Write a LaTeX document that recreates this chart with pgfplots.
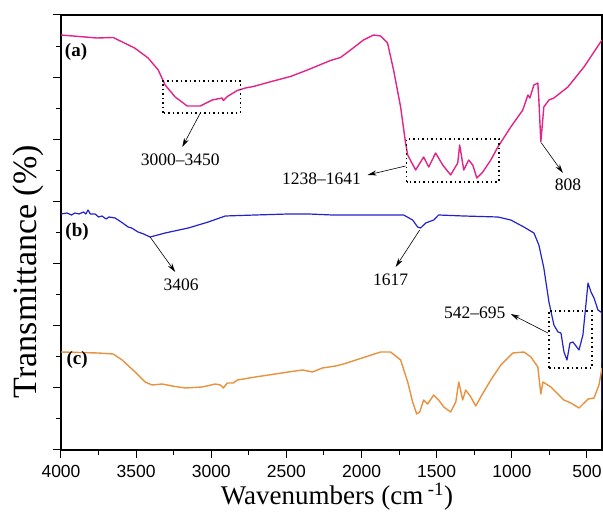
\documentclass[border=0pt]{standalone}
\usepackage{pgfplots}
\pgfplotsset{compat=1.18}
\usepackage{fontspec}
\setmainfont{Liberation Serif}
\newfontfamily\arialfont{Liberation Sans}
\usetikzlibrary{arrows.meta}

\definecolor{specA}{RGB}{224,36,138}
\definecolor{specB}{RGB}{34,34,204}
\definecolor{specC}{RGB}{232,145,62}

\begin{document}
\begin{tikzpicture}
\begin{axis}[
  scale only axis,
  width=541pt, height=435pt,
  x dir=reverse,
  xmin=400, xmax=4000,
  ymin=0, ymax=435,
  xtick={500,1000,...,4000},
  minor x tick num=1,
  ytick={0,62.142857,...,436},
  minor y tick num=1,
  yticklabels={},
  tick pos=left,
  tick align=outside,
  major tick length=8pt,
  minor tick length=5pt,
  every tick/.style={black, line width=1pt},
  axis line style={line width=1.3pt},
  /pgf/number format/assume math mode=true,
  /pgf/number format/set thousands separator={},
  ticklabel style={font=\arialfont\fontsize{17.5}{17.5}\selectfont},
  xticklabel style={yshift=-4pt},
  xlabel={Wavenumbers (cm\,\textsuperscript{-1})},
  ylabel={Transmittance (\%)},
  xlabel style={font=\fontsize{27}{27}\selectfont, at={(axis description cs:0.51,-0.108)}, anchor=center},
  ylabel style={font=\fontsize{34}{34}\selectfont, at={(axis description cs:-0.061,0.41)}, anchor=center},
  every axis plot/.style={line width=1.4pt, line join=round},
]

% (a)
\addplot[specA] coordinates {
(4000,415) (3760,412) (3653,412.5) (3510,402) (3420,392) (3353,380) (3307,365)
(3240,353) (3160,344) (3073,344) (2993,350) (2927,352) (2920,349.5) (2893,353.5)
(2827,359.5) (2773,362) (2720,363.5) (2587,369) (2473,373.5) (2360,380) (2207,389.5)
(2140,392.5) (2073,400) (1987,410) (1920,415) (1873,414) (1827,407) (1787,380)
(1740,343) (1707,307) (1693,295) (1640,280) (1587,293) (1553,283) (1507,297)
(1460,285) (1407,275) (1360,287) (1347,305) (1320,280) (1287,290) (1260,285)
(1233,272) (1193,278) (1140,290) (1093,303) (1007,323) (927,340) (893,355)
(880,352) (853,365) (827,367) (820,350) (807,308) (787,343) (753,350) (720,352)
(627,363) (520,383) (400,410)
};

% (b)
\addplot[specB, line width=1.2pt] coordinates {
(4000,236) (3960,237) (3930,235) (3907,237) (3880,236) (3850,238) (3835,236)
(3820,240) (3805,236) (3773,236) (3750,233) (3727,234) (3700,231) (3680,233)
(3640,232) (3610,229) (3590,227) (3553,223) (3530,222) (3487,218) (3450,216)
(3407,213) (3307,217) (3153,222) (3020,228) (2907,234) (2707,235) (2487,236)
(2353,236) (2193,235) (1987,235) (1720,235) (1660,230) (1627,223) (1607,222)
(1573,227) (1520,230) (1487,235) (1320,234) (1093,233) (1007,230) (920,223)
(853,217) (820,205) (787,182) (753,148) (720,125) (693,118) (673,117) (653,98)
(633,90) (613,107) (593,108) (553,100) (527,115) (493,167) (473,158) (453,152)
(427,140) (407,138) (402,137) (400,40)
};

% (c)
\addplot[specC] coordinates {
(4000,98) (3753,97) (3653,96) (3593,90) (3507,78) (3440,68) (3393,65) (3327,66)
(3260,64) (3173,62) (3060,63) (2973,66) (2940,65) (2920,62) (2893,67) (2853,67)
(2827,70) (2707,73) (2487,78) (2393,80) (2327,78) (2260,82) (2173,84) (2120,86)
(1873,98) (1807,98) (1740,90) (1693,68) (1660,48) (1633,36) (1613,38) (1587,50)
(1560,46) (1520,55) (1487,50) (1453,43) (1407,38) (1373,48) (1353,68) (1327,50)
(1307,60) (1273,53) (1240,44) (1207,53) (1140,70) (1073,85) (993,97) (920,98)
(873,93) (827,83) (807,56) (793,68) (740,63) (653,50) (607,47) (553,42) (493,51)
(453,52) (420,65) (400,82)
};

% dotted frames round the bands
\draw[black, line width=1.5pt, dash pattern=on 1.5pt off 3pt]
  (axis cs:3320,337) rectangle (axis cs:2807,369);
\draw[black, line width=1.5pt, dash pattern=on 1.5pt off 3pt]
  (axis cs:1700,268) rectangle (axis cs:1087,311);
\draw[black, line width=1.5pt, dash pattern=on 1.5pt off 3pt]
  (axis cs:753,82) rectangle (axis cs:467,139);

% band labels and pointers
\tikzset{ann/.style={font=\fontsize{17.5}{17.5}\selectfont, inner sep=0pt},
         pointer/.style={black, line width=0.6pt, -{Stealth[length=9pt,width=5pt]}}}
\draw[pointer] (axis cs:3073,337) -- (axis cs:3193,303);
\node[ann] at (axis cs:3207,290) {3000--3450};
\draw[pointer] (axis cs:1707,284) -- (axis cs:1960,275);
\node[ann] at (axis cs:2267,271) {1238--1641};
\draw[pointer] (axis cs:803,307) -- (axis cs:660,277);
\node[ann] at (axis cs:627,265) {808};
\draw[pointer] (axis cs:3407,213) -- (axis cs:3240,178);
\node[ann] at (axis cs:3200,165) {3406};
\draw[pointer] (axis cs:1613,220) -- (axis cs:1773,183);
\node[ann] at (axis cs:1807,170) {1617};
\draw[pointer] (axis cs:760,117) -- (axis cs:1007,136);
\node[ann] at (axis cs:1247,137) {542--695};

\tikzset{tag/.style={font=\bfseries\fontsize{19}{19}\selectfont, inner sep=0pt}}
\node[tag] at (axis cs:3900,398) {(a)};
\node[tag] at (axis cs:3893,218) {(b)};
\node[tag] at (axis cs:3893,90) {(c)};
\end{axis}
\pgfresetboundingbox
\path (-61pt,-72pt) rectangle (542pt,450pt);
\end{tikzpicture}
\end{document}
